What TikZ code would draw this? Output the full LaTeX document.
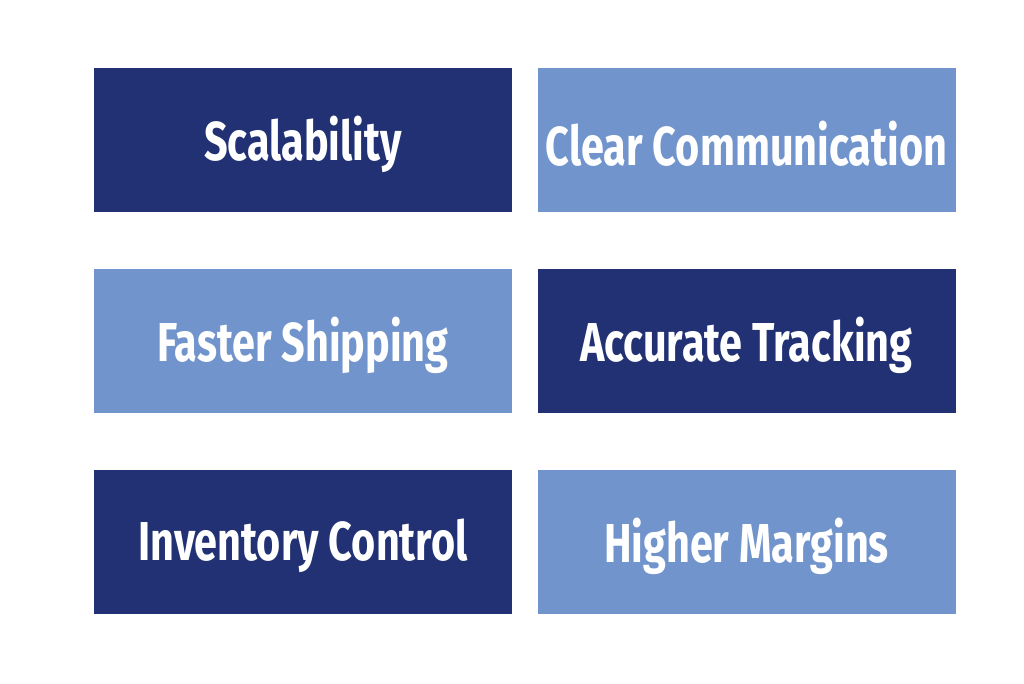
\documentclass[tikz,border=0pt]{standalone}
\usepackage{fontspec}
\setmainfont[FakeStretch=0.755]{Fira Sans}
\usepackage{xcolor}
\usepackage{tikz}
\usetikzlibrary{positioning}
\definecolor{navy}{HTML}{213173}
\definecolor{sky}{HTML}{7294CC}

\begin{document}
\begin{tikzpicture}[
    font=\fontsize{39}{44}\selectfont\bfseries,
    block/.style={minimum width=10.45cm, minimum height=3.6cm, inner sep=0pt},
    dark/.style={block, fill=navy},
    light/.style={block, fill=sky},
    caption/.style={text=white, yshift=-0.1cm}
]
\useasboundingbox (0,0) rectangle (25.6,17.075);
% left column
\node[dark] (scale) at (7.575,13.575) {};
\node[light] (ship) at (7.575,8.55) {};
\node[dark] (stock) at (7.575,3.525) {};
% right column
\node[light] (comm) at (18.6625,13.575) {};
\node[dark] (track) at (18.6625,8.55) {};
\node[light] (margin) at (18.6625,3.525) {};
% texts
\node[caption] (scale-t) at (scale) {Scalability};
\node[caption] (ship-t) at (ship) {Faster Shipping};
\node[caption] (stock-t) at (stock) {Inventory Control};
\node[caption] (comm-t) at (comm) {Clear Communication};
\node[caption] (track-t) at (track) {Accurate Tracking};
\node[caption] (margin-t) at (margin) {Higher Margins};
\end{tikzpicture}
\end{document}
